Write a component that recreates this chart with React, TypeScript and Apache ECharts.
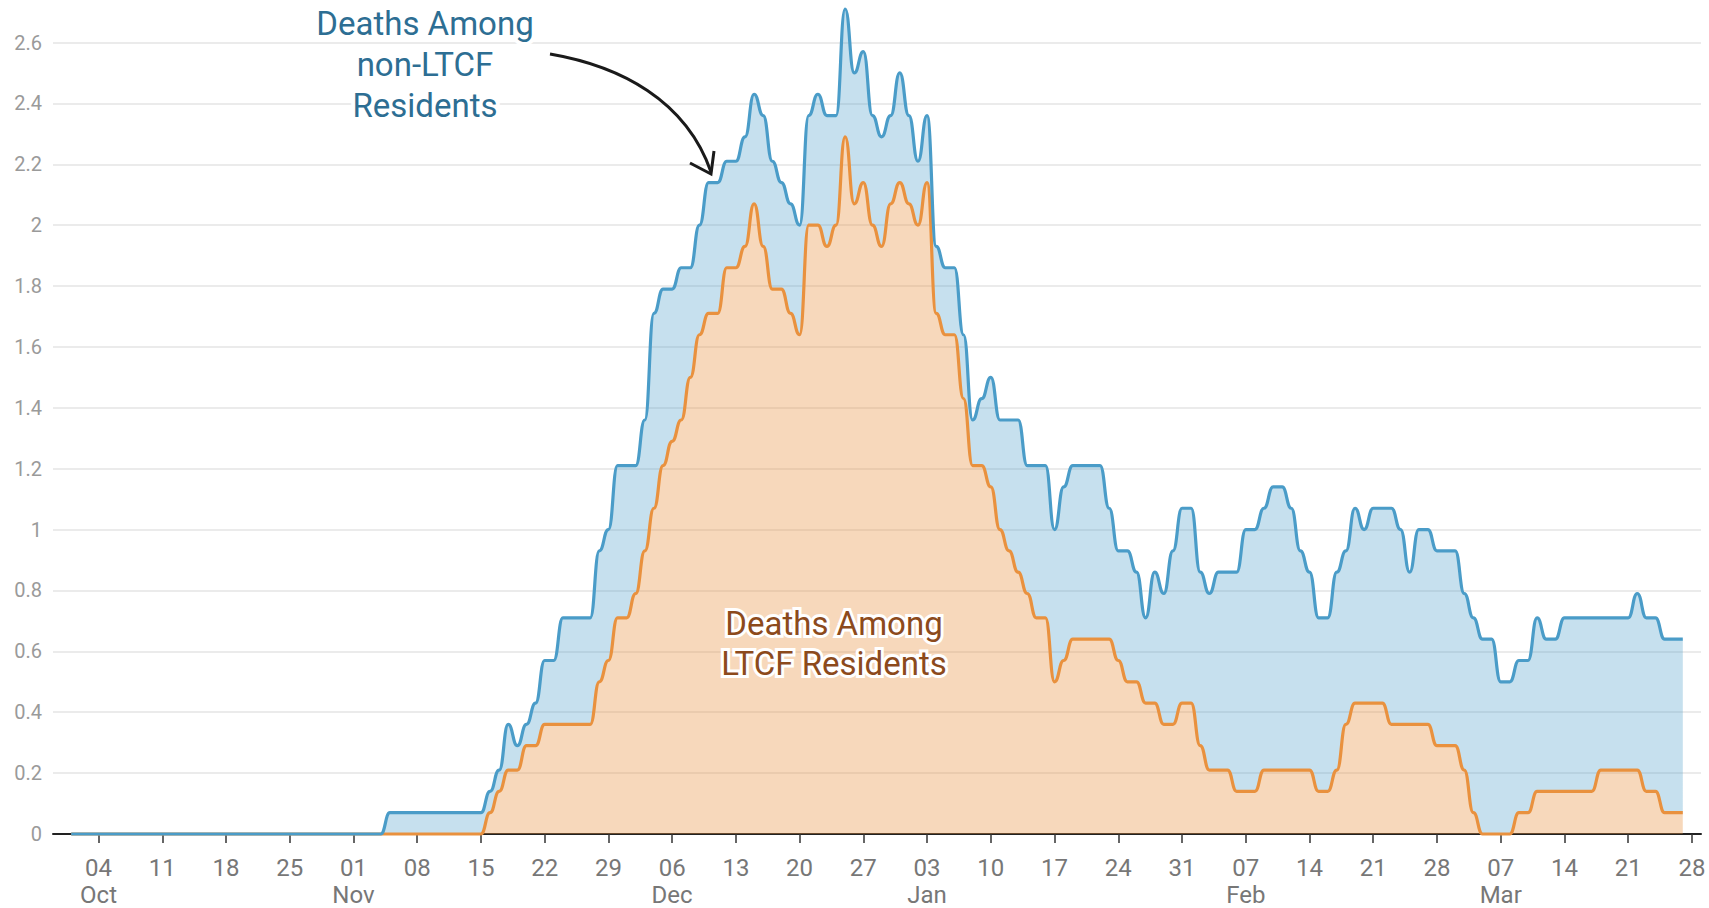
import React, { useEffect, useRef } from "react";
import * as echarts from "echarts";

// ---- Data (daily values, Oct 1 2020 .. Mar 27 2021) ----
const FIRST_CATEGORY = "2020-09-29"; // axis starts two days before the data
const CATEGORY_COUNT = 182;
const DATA_OFFSET = 2; // index of Oct 1 on the axis

// Total deaths (top, blue line)
const totalDeaths: number[] = [
  0, 0, 0, 0, 0, 0, 0, 0, 0, 0, 0, 0, 0, 0, 0, 0, 0, 0, 0, 0,
  0, 0, 0, 0, 0, 0, 0, 0, 0, 0, 0, 0, 0, 0, 0,
  0.07, 0.07, 0.07, 0.07, 0.07, 0.07, 0.07, 0.07, 0.07, 0.07, 0.07,
  0.14, 0.21, 0.36, 0.29, 0.36, 0.43, 0.57, 0.57, 0.71, 0.71, 0.71, 0.71, 0.93, 1.0,
  1.21, 1.21, 1.21, 1.36, 1.71, 1.79, 1.79, 1.86, 1.86, 2.0,
  2.14, 2.14, 2.21, 2.21, 2.29, 2.43, 2.36, 2.21, 2.14, 2.07,
  2.0, 2.36, 2.43, 2.36, 2.36, 2.71, 2.5, 2.57, 2.36, 2.29,
  2.36, 2.5, 2.36, 2.21, 2.36, 1.93, 1.86, 1.86, 1.64, 1.36,
  1.43, 1.5, 1.36, 1.36, 1.36, 1.21, 1.21, 1.21, 1.0, 1.14,
  1.21, 1.21, 1.21, 1.21, 1.07, 0.93, 0.93, 0.86, 0.71, 0.86,
  0.79, 0.93, 1.07, 1.07, 0.86, 0.79, 0.86, 0.86, 0.86, 1.0,
  1.0, 1.07, 1.14, 1.14, 1.07, 0.93, 0.86, 0.71, 0.71, 0.86,
  0.93, 1.07, 1.0, 1.07, 1.07, 1.07, 1.0, 0.86, 1.0, 1.0,
  0.93, 0.93, 0.93, 0.79, 0.71, 0.64, 0.64, 0.5, 0.5, 0.57,
  0.57, 0.71, 0.64, 0.64, 0.71, 0.71, 0.71, 0.71, 0.71, 0.71,
  0.71, 0.71, 0.79, 0.71, 0.71, 0.64, 0.64, 0.64,
];

// Deaths among LTCF residents (bottom, orange line)
const ltcfDeaths: number[] = [
  0, 0, 0, 0, 0, 0, 0, 0, 0, 0, 0, 0, 0, 0, 0, 0, 0, 0, 0, 0,
  0, 0, 0, 0, 0, 0, 0, 0, 0, 0, 0, 0, 0, 0, 0, 0, 0, 0, 0, 0,
  0, 0, 0, 0, 0, 0,
  0.07, 0.14, 0.21, 0.21, 0.29, 0.29, 0.36, 0.36, 0.36, 0.36, 0.36, 0.36, 0.5, 0.57,
  0.71, 0.71, 0.79, 0.93, 1.07, 1.21, 1.29, 1.36, 1.5, 1.64,
  1.71, 1.71, 1.86, 1.86, 1.93, 2.07, 1.93, 1.79, 1.79, 1.71,
  1.64, 2.0, 2.0, 1.93, 2.0, 2.29, 2.07, 2.14, 2.0, 1.93,
  2.07, 2.14, 2.07, 2.0, 2.14, 1.71, 1.64, 1.64, 1.43, 1.21,
  1.21, 1.14, 1.0, 0.93, 0.86, 0.79, 0.71, 0.71, 0.5, 0.57,
  0.64, 0.64, 0.64, 0.64, 0.64, 0.57, 0.5, 0.5, 0.43, 0.43,
  0.36, 0.36, 0.43, 0.43, 0.29, 0.21, 0.21, 0.21, 0.14, 0.14,
  0.14, 0.21, 0.21, 0.21, 0.21, 0.21, 0.21, 0.14, 0.14, 0.21,
  0.36, 0.43, 0.43, 0.43, 0.43, 0.36, 0.36, 0.36, 0.36, 0.36,
  0.29, 0.29, 0.29, 0.21, 0.07, 0, 0, 0, 0, 0.07,
  0.07, 0.14, 0.14, 0.14, 0.14, 0.14, 0.14, 0.14, 0.21, 0.21,
  0.21, 0.21, 0.21, 0.14, 0.14, 0.07, 0.07, 0.07,
];

// Tick labels (every 7 days from Oct 4)
const FIRST_TICK_INDEX = 5;
const TICK_STEP = 7;
const tickDays: string[] = [
  "04", "11", "18", "25", "01", "08", "15", "22", "29", "06", "13", "20", "27",
  "03", "10", "17", "24", "31", "07", "14", "21", "28", "07", "14", "21", "28",
];
const tickMonths: string[] = [
  "Oct", "", "", "", "Nov", "", "", "", "", "Dec", "", "", "",
  "Jan", "", "", "", "", "Feb", "", "", "", "Mar", "", "", "",
];

function buildCategories(): string[] {
  const out: string[] = [];
  const d0 = new Date(FIRST_CATEGORY + "T12:00:00Z");
  for (let i = 0; i < CATEGORY_COUNT; i++) {
    const d = new Date(d0.getTime() + i * 86400000);
    out.push(d.toISOString().slice(0, 10));
  }
  return out;
}

function padSeries(vals: (number | null)[]): (number | null)[] {
  const out: (number | null)[] = [];
  for (let i = 0; i < CATEGORY_COUNT; i++) {
    const j = i - DATA_OFFSET;
    out.push(j >= 0 && j < vals.length ? vals[j] : null);
  }
  return out;
}

const isTick = (index: number) =>
  index >= FIRST_TICK_INDEX &&
  (index - FIRST_TICK_INDEX) % TICK_STEP === 0 &&
  (index - FIRST_TICK_INDEX) / TICK_STEP < tickDays.length;

export default function App() {
  const ref = useRef<HTMLDivElement>(null);

  useEffect(() => {
    if (!ref.current) return;
    const chart = echarts.init(ref.current, undefined, { renderer: "svg" });
    const categories = buildCategories();
    const nonLtcf = totalDeaths.map((t, i) =>
      Math.round((t - (ltcfDeaths[i] ?? 0)) * 1000) / 1000
    );

    const option: any = {
      animation: false,
      backgroundColor: "#ffffff",
      grid: { left: 53, right: 8, top: 42.5, bottom: 73, containLabel: false },
      xAxis: {
        type: "category",
        data: categories,
        boundaryGap: false,
        axisLine: { show: true, lineStyle: { color: "#222222", width: 2 } },
        axisTick: {
          show: true,
          interval: (index: number) => isTick(index),
          length: 9,
          lineStyle: { color: "#333333", width: 1.5 },
        },
        axisLabel: {
          interval: (index: number) => isTick(index),
          formatter: (_v: string, index: number) => {
            const k = (index - FIRST_TICK_INDEX) / TICK_STEP;
            const day = tickDays[k] ?? "";
            const mon = tickMonths[k] ?? "";
            return mon ? day + "\n" + mon : day;
          },
          margin: 20,
          color: "#777777",
          fontSize: 24,
          lineHeight: 27,
          fontFamily: "'Liberation Sans Narrow', 'Roboto', sans-serif",
        },
        splitLine: { show: false },
      },
      yAxis: {
        type: "value",
        min: 0,
        max: 2.6,
        interval: 0.2,
        axisLine: { show: false },
        axisTick: { show: false },
        axisLabel: {
          formatter: (v: number) => String(Math.round(v * 10) / 10),
          color: "#9a9a9a",
          fontSize: 20,
          margin: 11,
          fontFamily: "Roboto, sans-serif",
        },
        splitLine: { lineStyle: { color: "#e4e4e4", width: 1.5 } },
      },
      series: [
        {
          name: "Deaths Among LTCF Residents",
          type: "line",
          stack: "deaths",
          data: padSeries(ltcfDeaths),
          smooth: 0.5,
          smoothMonotone: "x",
          symbol: "none",
          clip: false,
          lineStyle: { color: "#e9913e", width: 3.2 },
          areaStyle: { color: "rgba(234,146,66,0.36)", opacity: 1 },
        },
        {
          name: "Deaths Among non-LTCF Residents",
          type: "line",
          stack: "deaths",
          data: padSeries(nonLtcf),
          smooth: 0.5,
          smoothMonotone: "x",
          symbol: "none",
          clip: false,
          lineStyle: { color: "#4a9cc8", width: 3.2 },
          areaStyle: { color: "rgba(65,152,198,0.3)", opacity: 1 },
        },
      ],
      graphic: [
        {
          type: "text",
          z: 100,
          style: {
            text: "Deaths Among\nnon-LTCF\nResidents",
            x: 425,
            y: 64,
            align: "center",
            verticalAlign: "middle",
            fontSize: 33,
            fontFamily: "Roboto, sans-serif",
            lineHeight: 41,
            fill: "#2d6e93",
            stroke: "#ffffff",
            lineWidth: 8,
          },
        },
        {
          type: "bezierCurve",
          z: 100,
          shape: {
            x1: 550, y1: 54,
            cpx1: 620, cpy1: 66,
            cpx2: 686, cpy2: 100,
            x2: 711, y2: 172,
          },
          style: { stroke: "#1a1a1a", lineWidth: 3, fill: null },
        },
        {
          type: "polyline",
          z: 100,
          shape: { points: [[690, 163], [711, 174], [714, 151]] },
          style: { stroke: "#1a1a1a", lineWidth: 3, fill: null },
        },
        {
          type: "text",
          z: 100,
          style: {
            text: "Deaths Among\nLTCF Residents",
            x: 834,
            y: 643,
            align: "center",
            verticalAlign: "middle",
            fontSize: 33,
            fontFamily: "Roboto, sans-serif",
            lineHeight: 40,
            fill: "#8c4a1c",
            stroke: "#ffffff",
            lineWidth: 6,
          },
        },
      ],
    };

    chart.setOption(option);
    return () => chart.dispose();
  }, []);

  return (
    <div
      ref={ref}
      style={{ position: "absolute", left: 0, top: 0, width: 1709, height: 908 }}
    />
  );
}
